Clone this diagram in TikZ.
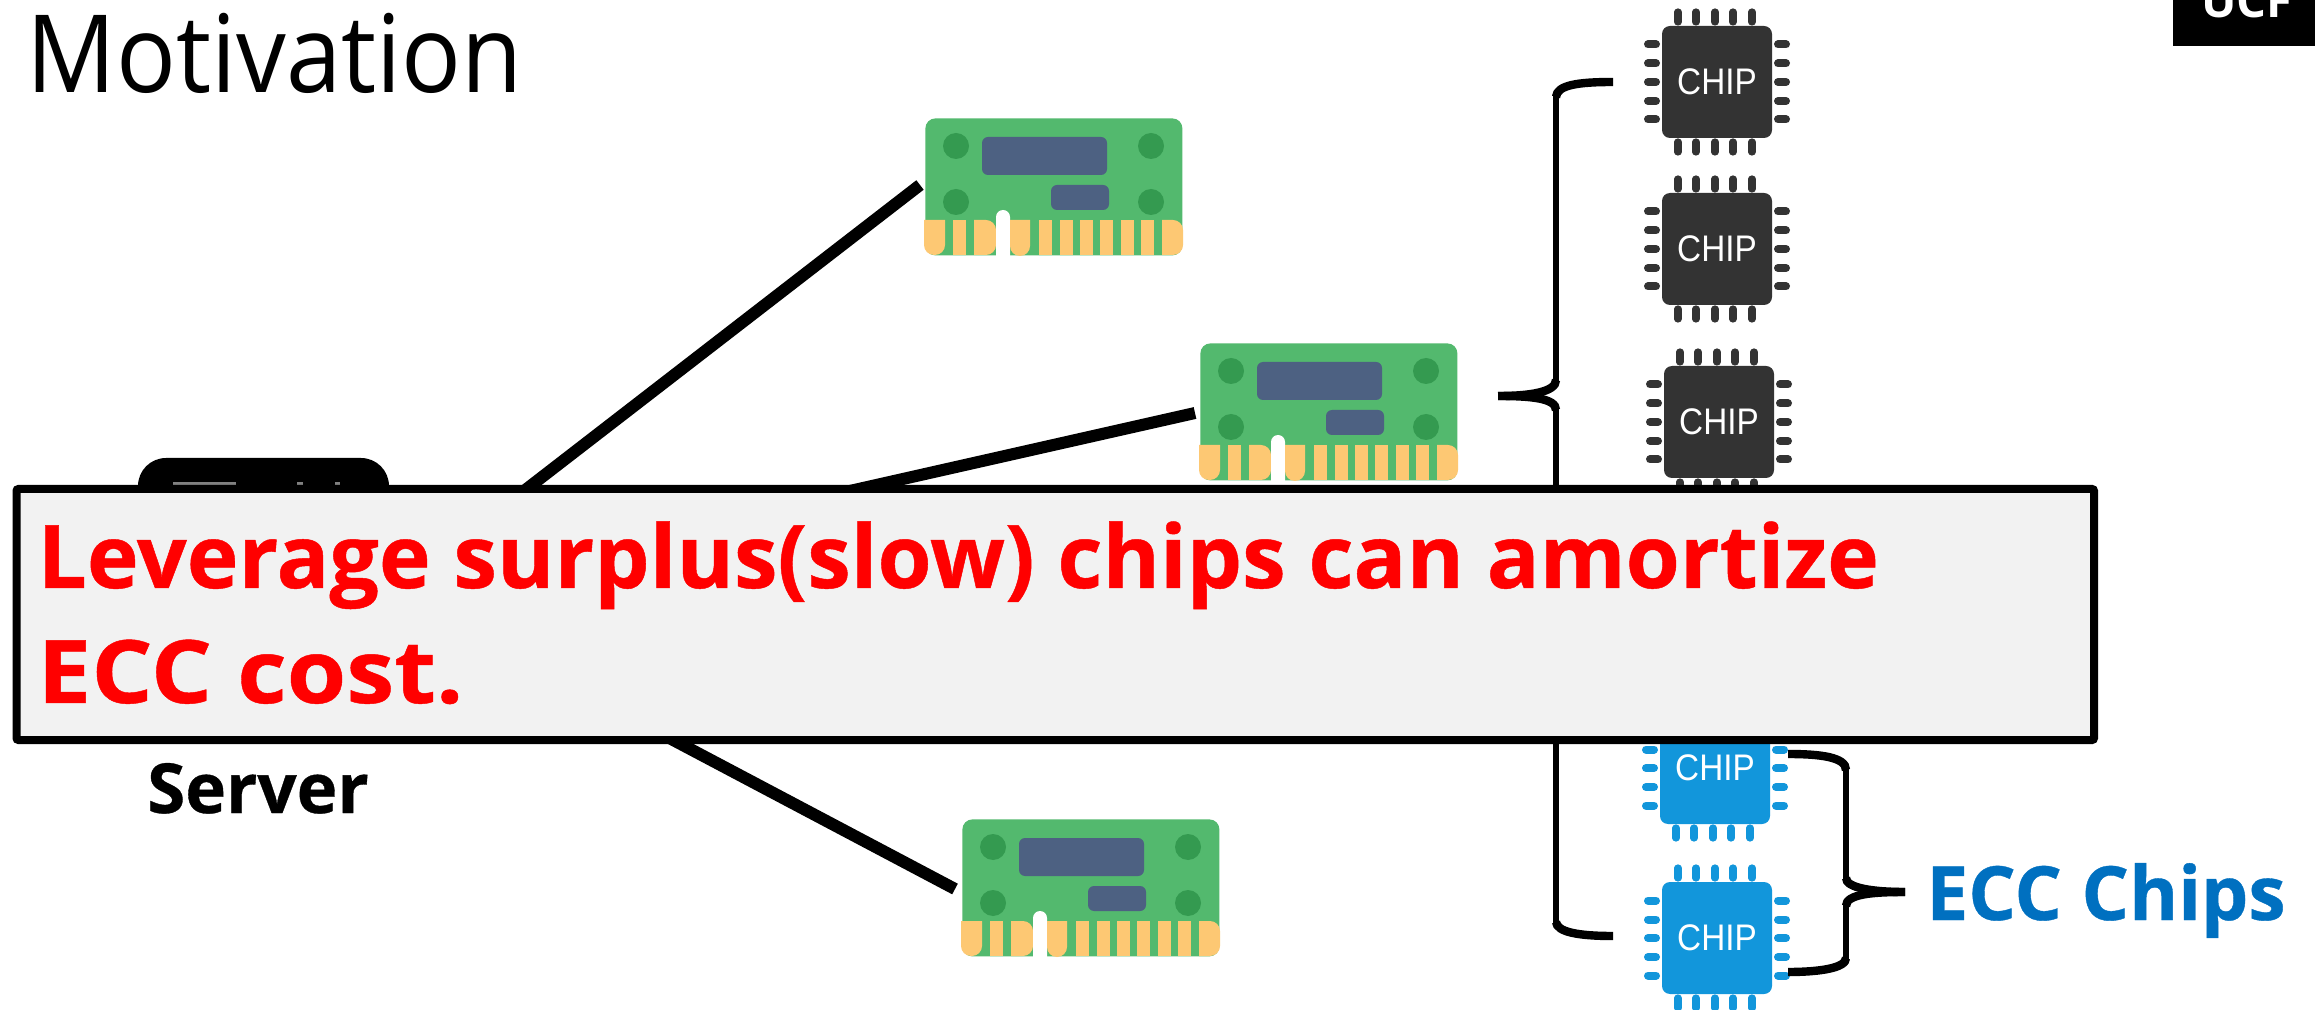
\documentclass[tikz,border=0pt]{standalone}
\usepackage{fontspec}
\setmainfont{Open Sans}
\newfontfamily\chipfont[FakeStretch=0.9]{Liberation Sans}
\newfontfamily\titlefont[FakeStretch=0.92]{Open Sans}
\usetikzlibrary{calc}
\definecolor{pcb}{HTML}{53B96E}
\definecolor{hole}{HTML}{349A50}
\definecolor{ram}{HTML}{4D6182}
\definecolor{gold}{HTML}{FDC873}
\definecolor{chipdark}{HTML}{333333}
\definecolor{chipblue}{HTML}{1296DB}
\definecolor{eccblue}{HTML}{0070C0}
\definecolor{panel}{HTML}{F2F2F2}
\newcommand{\heavy}{\bfseries\addfontfeature{FakeBold=0.5}}
\tikzset{
  wire/.style={line width=6pt,black},
  bracestroke/.style={line width=3pt,black,line cap=butt},
  braceend/.style={line width=4.2pt,black,line cap=butt},
  chipbody/.style={rectangle,rounded corners=4pt,minimum width=55pt,minimum height=56pt,inner sep=0pt,text=white,font=\chipfont\fontsize{18.5}{20}\selectfont},
  pinv/.style={line width=3.6pt,line cap=round},
  pinh/.style={line width=4pt,line cap=round},
  dimmbody/.style={rectangle,fill=pcb,rounded corners=5pt,minimum width=128.5pt,minimum height=68.5pt,inner sep=0pt,anchor=north west},
}
% chip: name, centre x, centre y, colour (pixel coordinates, y negated)
\newcommand{\chipat}[4]{%
  \node[chipbody,fill=#4] (#1) at (#2,-#3) {CHIP};
  \foreach \dx in {-39,-21,-2,16,35}{
    \draw[pinv,#4] ($(#1.center)+(\dx,60)$) -- ($(#1.center)+(\dx,70)$);
    \draw[pinv,#4] ($(#1.center)+(\dx,-60)$) -- ($(#1.center)+(\dx,-70)$);
  }
  \foreach \dy in {-37.5,-19,0,18.5,37.5}{
    \draw[pinh,#4] ($(#1.center)+(-69,\dy)$) -- ($(#1.center)+(-61,\dy)$);
    \draw[pinh,#4] ($(#1.center)+(61,\dy)$) -- ($(#1.center)+(69,\dy)$);
  }%
}
% dimm: name, left, top
\newcommand{\dimmat}[3]{%
  \begin{scope}[shift={(#2,-#3)}]
    \node[dimmbody] (#1) at (0,0) {};
    \foreach \hx in {31,226}{\foreach \hy in {28,84}{
      \fill[hole] (\hx,-\hy) circle[radius=13];}}
    \fill[ram,rounded corners=3pt] (57,-19) rectangle (182,-57);
    \fill[ram,rounded corners=3pt] (126,-67) rectangle (184,-92);
    \fill[gold] (-1,-102) [rounded corners=5pt] -- (-1,-137) -- (20,-137) [sharp corners] -- (20,-102) -- cycle;
    \fill[gold] (28,-102) rectangle (41,-137);
    \fill[gold] (49,-102) [sharp corners] -- (49,-137) [rounded corners=5pt] -- (71,-137) -- (71,-102) [sharp corners] -- cycle;
    \fill[white,rounded corners=3.5pt] (71,-92) rectangle (85,-145);
    \fill[gold] (85,-102) [rounded corners=5pt] -- (85,-138) -- (105,-138) [sharp corners] -- (105,-102) -- cycle;
    \foreach \gx in {114,135,155,175,196,216}{
      \fill[gold] (\gx,-102) rectangle ++(13,-35);}
    \fill[gold] (237,-102) [sharp corners] -- (237,-137) [rounded corners=5pt] -- (258,-137) -- (258,-102) [sharp corners] -- cycle;
  \end{scope}%
}
\begin{document}
\begin{tikzpicture}[x=0.5pt,y=0.5pt]
\useasboundingbox (0,0) rectangle (2315,-1010);
\fill[white] (0,0) rectangle (2315,-1010);

% title
\node[anchor=base west,inner sep=0pt,font=\titlefont\fontsize{54}{56}\selectfont] (title) at (26,-93) {Motivation};

% UCF tag
\begin{scope}
\clip (2173,0) rectangle (2315,-46);
\node[fill=black,minimum width=71pt,minimum height=23pt,inner sep=0pt,anchor=north west] (tag) at (2173,0) {};
\node[anchor=base,inner sep=0pt,text=white,font=\bfseries\fontsize{23.5}{24}\selectfont] (tagtext) at (2247,-18) {UCF};
\end{scope}

% server
\node[fill=black,rectangle,rounded corners=14pt,minimum width=125.5pt,minimum height=137pt,inner sep=0pt] (srv) at (263.5,-595) {};
\fill[gray] (173,-482) rectangle (236,-486);
\fill[gray] (297,-482) rectangle (303,-486);
\fill[gray] (335,-482) rectangle (340,-486);
\node[anchor=base,inner sep=0pt,font=\heavy\fontsize{34.5}{36}\selectfont] (srvlabel) at (258,-813) {Server};

% dimms
\dimmat{d1}{925}{118}
\dimmat{d2}{1200}{343}
\dimmat{d3}{962}{819}

% server to dimm links
\coordinate (e1) at (920,-185);
\coordinate (e2) at (1195,-413);
\coordinate (e3) at (955,-889);
\draw[wire] (srv.east) -- (e1);
\draw[wire] (srv.east) -- (e2);
\draw[wire] ($(srv.east)+(0,5)$) -- (e3);

% chips
\chipat{c1}{1717}{82}{chipdark}
\chipat{c2}{1717}{249}{chipdark}
\chipat{c3}{1719}{422}{chipdark}
\chipat{c4}{1715}{768}{chipblue}
\chipat{c5}{1717}{938}{chipblue}

% left brace
\coordinate (bt) at (1613,-82);
\coordinate (bb) at (1613,-936);
\coordinate (bm) at (1498,-396);
\draw[braceend] (bt) .. controls (1578,-82) and (1557,-85) .. (1556,-97);
\draw[bracestroke] (1556,-95) -- (1556,-382);
\draw[braceend] (1556,-380) .. controls (1556,-392) and (1530,-396) .. (bm);
\draw[braceend] (bm) .. controls (1530,-396) and (1556,-398) .. (1556,-410);
\draw[bracestroke] (1556,-408) -- (1556,-926);
\draw[braceend] (1556,-922) .. controls (1557,-932) and (1578,-936) .. (bb);

% right brace
\coordinate (rt) at (1788,-754);
\coordinate (rb) at (1788,-972);
\coordinate (rm) at (1905,-892);
\draw[braceend] (rt) .. controls (1820,-754) and (1846,-757) .. (1846,-770);
\draw[bracestroke] (1846,-768) -- (1846,-880);
\draw[braceend] (1846,-878) .. controls (1846,-888) and (1873,-892) .. (rm);
\draw[braceend] (rm) .. controls (1873,-892) and (1846,-894) .. (1846,-906);
\draw[bracestroke] (1846,-904) -- (1846,-960);
\draw[braceend] (1846,-958) .. controls (1846,-968) and (1820,-972) .. (rb);
\node[anchor=base west,inner sep=0pt,text=eccblue,font=\heavy\fontsize{37.4}{38}\selectfont] (ecc) at (1926,-920) {ECC Chips};

% message panel
\node[rectangle,draw=black,line width=4pt,fill=panel,rounded corners=1pt,minimum width=1038.75pt,minimum height=125.5pt,inner sep=0pt,anchor=north west] (msg) at (12.5,-485) {};
\node[anchor=base west,inner sep=0pt,text=red,font=\heavy\fontsize{43.8}{44}\selectfont] (l1) at (37,-588) {Leverage surplus(slow) chips can amortize};
\node[anchor=base west,inner sep=0pt,text=red,font=\heavy\fontsize{43.8}{44}\selectfont\addfontfeature{FakeStretch=1.1}] (l2) at (37,-703) {ECC cost.};
\end{tikzpicture}
\end{document}
